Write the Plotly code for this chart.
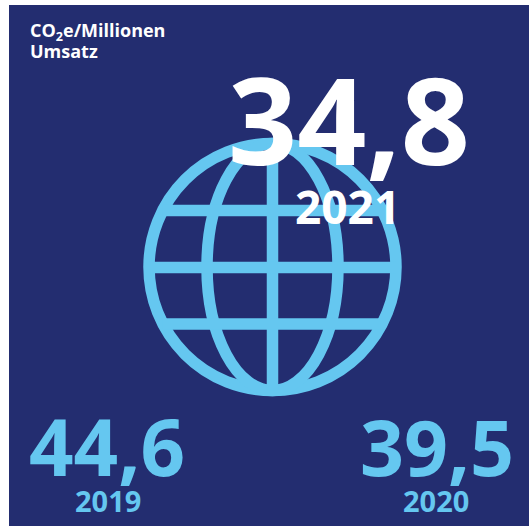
import math
import plotly.graph_objects as go

# CO2e per million of revenue, by year
years = ["2019", "2020", "2021"]
values = ["44,6", "39,5", "34,8"]
title_lines = ["CO<sub>2</sub>e/Millionen", "Umsatz"]

NAVY = "#232D70"
SKY = "#65C7F0"
WHITE = "#FFFFFF"
FONT = "Open Sans"

# globe geometry, in pixel-like axis units
cx, cy = 272.5, 267.0
radius = 123.5
meridian_rx = 65.5
stroke = 11.5
parallels = [210.5, 267.5, 324.0]

fig = go.Figure()

globe_line = dict(color=SKY, width=stroke)
shapes = [
    dict(type="circle", x0=cx - radius, x1=cx + radius, y0=cy - radius, y1=cy + radius, line=globe_line),
    dict(type="circle", x0=cx - meridian_rx, x1=cx + meridian_rx, y0=cy - radius, y1=cy + radius, line=globe_line),
    dict(type="line", x0=cx, x1=cx, y0=cy - radius, y1=cy + radius, line=globe_line),
]
for y in parallels:
    half = math.sqrt(radius ** 2 - (y - cy) ** 2)
    shapes.append(dict(type="line", x0=cx - half, x1=cx + half, y0=y, y1=y, line=globe_line))


def label(text, x, y, size, color, anchor="center"):
    return dict(
        text=text, x=x, y=y, xref="x", yref="y",
        xanchor=anchor, yanchor="middle", showarrow=False,
        font=dict(family=FONT, size=size, color=color, weight=700),
    )


annotations = [
    label(title_lines[0], 27.5, 31, 18, WHITE, "left"),
    label(title_lines[1], 27.5, 51, 18, WHITE, "left"),
    label(values[2], 349, 118, 121, WHITE),
    label(years[2], 347, 206, 46, WHITE),
    label(values[0], 106.5, 446, 78, SKY),
    label(years[0], 107.5, 500, 29, SKY),
    label(values[1], 436.5, 446, 77, SKY),
    label(years[1], 436, 500, 29, SKY),
]

fig.update_layout(
    width=529, height=526,
    margin=dict(l=9, r=0, t=5, b=0),
    paper_bgcolor=WHITE,
    plot_bgcolor=NAVY,
    showlegend=False,
    xaxis=dict(range=[9, 529], visible=False, fixedrange=True),
    yaxis=dict(range=[526, 5], visible=False, fixedrange=True),
    shapes=shapes,
    annotations=annotations,
)

fig.write_html("out.html", config=dict(displayModeBar=False))
